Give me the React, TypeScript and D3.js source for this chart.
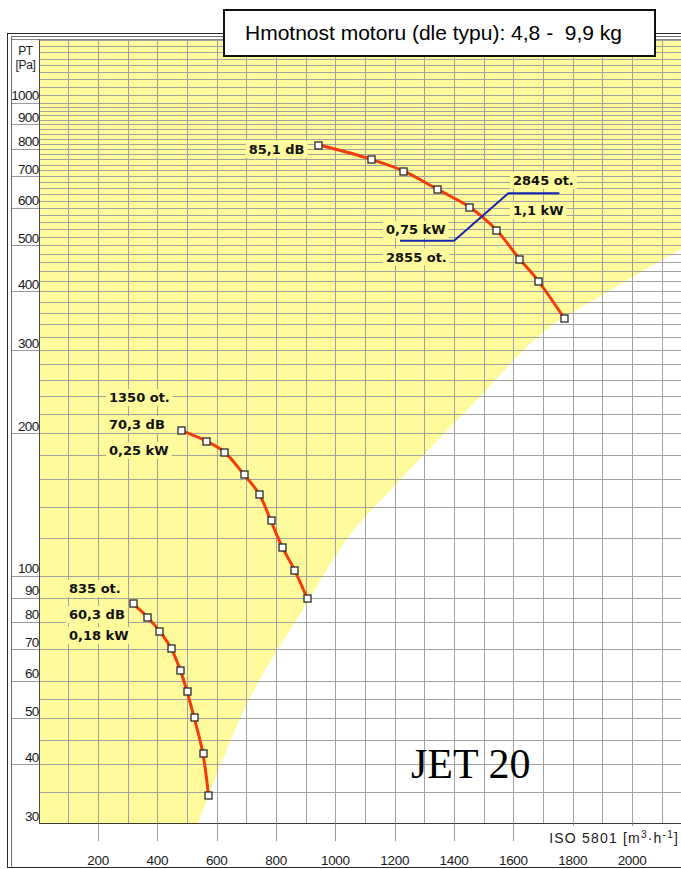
import React, { useLayoutEffect, useRef, useState } from 'react';
import * as d3 from 'd3';

const W = 681;
const H = 869;

// ---- axis ticks / grid values ----
const xTickValues = [200, 400, 600, 800, 1000, 1200, 1400, 1600, 1800, 2000];
const xGridValues = d3.range(100, 2200, 100);
const yTickValues = [30, 40, 50, 60, 70, 80, 90, 100, 200, 300, 400, 500, 600, 700, 800, 900, 1000];
const yGridValues = [
  ...d3.range(30, 60, 5),
  ...d3.range(60, 100, 10),
  ...d3.range(100, 1000, 20),
  ...d3.range(1000, 1361, 40),
];

// ---- fan curves (Q m3/h, PT Pa) ----
const q835 = [317, 365, 407, 446, 477, 500, 523, 553, 572];
const p835 = [87.5, 82, 76.5, 70.3, 63.3, 57, 50.4, 42.3, 34.5];
const q1350 = [479, 563, 625, 691, 743, 782, 821, 862, 904];
const p1350 = [203, 193, 183, 164, 149, 131, 115, 103, 90];
const q2850 = [943, 1119, 1229, 1344, 1452, 1542, 1620, 1683, 1772];
const p2850 = [815, 760, 718, 656, 602, 539, 468, 421, 350];

// ---- boundary of working area (white region beyond) ----
const boundaryQ = [537, 679, 891, 1049, 1178, 1478, 1699, 1892, 2165];
const boundaryP = [30, 50, 85, 122, 150, 236, 327, 390, 490];

// ---- blue motor split line ----
const splitQ = [1218, 1400, 1583, 1755];
const splitP = [511, 511, 644, 644];

const BOLD = "'DejaVu Sans', Verdana, sans-serif";
const SANS = "'Liberation Sans', Arial, sans-serif";
const YELLOW = '#fffb9c';
const GRID = '#a2a2a2';

type LabelProps = { x: number; y: number; text: string; anchor?: 'start' | 'end' | 'middle'; bg: string };

function Label({ x, y, text, anchor = 'start', bg }: LabelProps) {
  const ref = useRef<SVGTextElement>(null);
  const [box, setBox] = useState<{ x: number; y: number; w: number; h: number } | null>(null);
  useLayoutEffect(() => {
    if (ref.current) {
      const b = ref.current.getBBox();
      setBox({ x: b.x, y: b.y, w: b.width, h: b.height });
    }
  }, [x, y, text]);
  return (
    <g>
      {box && <rect x={box.x - 3} y={box.y - 1} width={box.w + 6} height={box.h + 2} fill={bg} />}
      <text
        ref={ref}
        x={x}
        y={y}
        textAnchor={anchor}
        fontFamily={BOLD}
        fontWeight="bold"
        fontSize={13}
        fill="#111"
      >
        {text}
      </text>
    </g>
  );
}

export default function App() {
  const plot = { left: 39, top: 39.3, right: 681, bottom: 823.3 };
  const x = d3.scaleLinear().domain([0, 2165]).range([38.7, 681]);
  const y = d3.scaleLog().domain([30, 1362]).range([823.3, 39.3]);
  const cx = (v: number) => Math.round(x(v)) + 0.5;
  const cy = (v: number) => Math.round(y(v)) + 0.5;

  const curves = [
    { q: q835, p: p835 },
    { q: q1350, p: p1350 },
    { q: q2850, p: p2850 },
  ];

  const lineGen = d3
    .line<[number, number]>()
    .x((d) => x(d[0]))
    .y((d) => y(d[1]))
    .curve(d3.curveCatmullRom.alpha(0.5));

  const boundaryGen = d3
    .line<[number, number]>()
    .x((d) => x(d[0]))
    .y((d) => y(d[1]))
    .curve(d3.curveMonotoneX);
  const boundaryPts = boundaryQ.map((q, i) => [q, boundaryP[i]] as [number, number]);
  const whitePath = boundaryGen(boundaryPts) + `L${x(2165)},${y(30)}Z`;

  const splitGen = d3
    .line<[number, number]>()
    .x((d) => x(d[0]))
    .y((d) => y(d[1]));
  const splitPts = splitQ.map((q, i) => [q, splitP[i]] as [number, number]);

  const ms = 7;

  return (
    <svg
      width={W}
      height={H}
      viewBox={`0 0 ${W} ${H}`}
      style={{ position: 'absolute', left: 0, top: 0, display: 'block', background: '#fff' }}
    >
      <rect x={0} y={0} width={W} height={H} fill="#fff" />

      {/* outer double frame */}
      <rect x={7.5} y={33.5} width={700} height={834} fill="#fff" stroke="#2a2a2a" strokeWidth={1} />
      <line x1={11.5} y1={36.5} x2={681} y2={36.5} stroke="#6a6a6a" />
      <line x1={11.5} y1={36.5} x2={11.5} y2={867.5} stroke="#6a6a6a" />

      {/* label column */}
      <rect x={12} y={plot.top} width={plot.left - 12} height={plot.bottom - plot.top} fill="#fff" />

      {/* plot background */}
      <rect x={plot.left} y={plot.top} width={plot.right - plot.left} height={plot.bottom - plot.top} fill={YELLOW} />
      <path d={whitePath} fill="#fff" />

      {/* grid */}
      <g stroke={GRID} strokeWidth={1}>
        {xGridValues.map((v) => (
          <line key={'gx' + v} x1={cx(v)} x2={cx(v)} y1={plot.top} y2={plot.bottom} />
        ))}
        {yGridValues.map((v) => (
          <line key={'gy' + v} x1={plot.left} x2={plot.right} y1={cy(v)} y2={cy(v)} />
        ))}
      </g>

      {/* plot borders */}
      <line x1={12} x2={plot.right} y1={39.5} y2={39.5} stroke="#8a8a8a" />
      <line x1={39.5} x2={39.5} y1={plot.top} y2={plot.bottom} stroke="#4a4a4a" />
      <line x1={39} x2={plot.right} y1={823.5} y2={823.5} stroke="#3a3a3a" />

      {/* y axis labels column */}
      <g>
        {yTickValues.map((v) => (
          <g key={'yt' + v}>
            {v !== 30 && <line x1={12} x2={39} y1={cy(v)} y2={cy(v)} stroke="#9a9a9a" />}
            <text
              x={38.5}
              y={y(v) - 2.5}
              textAnchor="end"
              fontFamily={SANS}
              fontSize={13.5}
              letterSpacing={-0.7}
              fill="#1a1a1a"
            >
              {v}
            </text>
          </g>
        ))}
        <text x={25.5} y={55} textAnchor="middle" fontFamily={SANS} fontSize={12} letterSpacing={-0.3} fill="#1a1a1a">
          PT
        </text>
        <text x={25.5} y={68.5} textAnchor="middle" fontFamily={SANS} fontSize={12} letterSpacing={-0.3} fill="#1a1a1a">
          [Pa]
        </text>
      </g>

      {/* fan curves */}
      {curves.map((c, i) => {
        const pts = c.q.map((q, j) => [q, c.p[j]] as [number, number]);
        return (
          <g key={'c' + i}>
            <path d={lineGen(pts) || ''} fill="none" stroke="#f23c0a" strokeWidth={3} strokeLinejoin="round" />
            {pts.map((d, j) => (
              <rect
                key={j}
                x={Math.round(x(d[0])) - ms / 2 + 0.5}
                y={Math.round(y(d[1])) - ms / 2 + 0.5}
                width={ms}
                height={ms}
                fill="#fff"
                stroke="#2a2a2a"
                strokeWidth={1.3}
              />
            ))}
          </g>
        );
      })}

      {/* blue split line */}
      <path d={splitGen(splitPts) || ''} fill="none" stroke="#1426b0" strokeWidth={2} />

      {/* annotations */}
      <Label x={69} y={593} text="835 ot." bg={YELLOW} />
      <Label x={69} y={619} text="60,3 dB" bg={YELLOW} />
      <Label x={69} y={640} text="0,18 kW" bg={YELLOW} />

      <Label x={109} y={402} text="1350 ot." bg={YELLOW} />
      <Label x={109} y={429} text="70,3 dB" bg={YELLOW} />
      <Label x={109} y={455} text="0,25 kW" bg={YELLOW} />

      <Label x={304.5} y={153.5} text="85,1 dB" anchor="end" bg={YELLOW} />
      <Label x={513} y={185} text="2845 ot." bg={YELLOW} />
      <Label x={513} y={215} text="1,1 kW" bg={YELLOW} />
      <Label x={386} y={234} text="0,75 kW" bg={YELLOW} />
      <Label x={386} y={261.5} text="2855 ot." bg={YELLOW} />

      {/* JET 20 */}
      <text x={411} y={778} fontFamily="'Liberation Serif', 'Times New Roman', serif" fontSize={42} fill="#000">
        JET 20
      </text>

      {/* x axis ticks and labels */}
      <g>
        {xTickValues.map((v) => (
          <g key={'xt' + v}>
            <line x1={cx(v)} x2={cx(v)} y1={823.5} y2={841} stroke="#9a9a9a" />
            <text x={x(v)} y={865} textAnchor="middle" fontFamily={SANS} fontSize={13.5} letterSpacing={-0.3} fill="#1a1a1a">
              {v}
            </text>
          </g>
        ))}
        <rect x={546} y={826} width={135} height={21} fill="#fff" />
        <text
          x={679}
          y={843}
          textAnchor="end"
          fontFamily={SANS}
          fontSize={14}
          letterSpacing={1.2}
          fill="#1a1a1a"
        >
          ISO 5801 [m
          <tspan fontSize={10} dy={-5}>3</tspan>
          <tspan dy={5}>·h</tspan>
          <tspan fontSize={10} dy={-5}>-1</tspan>
          <tspan dy={5}>]</tspan>
        </text>
      </g>

      {/* title box */}
      <rect x={224} y={10} width={431} height={46} fill="#fff" stroke="#111" strokeWidth={2} />
      <text x={245} y={40} fontFamily={SANS} fontSize={21} fill="#000" style={{ whiteSpace: 'pre' }}>
        {'Hmotnost motoru (dle typu): 4,8 -  9,9 kg'}
      </text>
    </svg>
  );
}
